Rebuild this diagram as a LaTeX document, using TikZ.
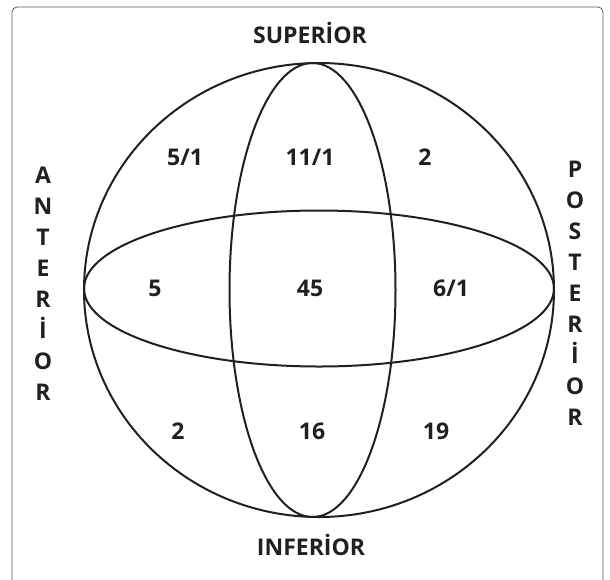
\documentclass[tikz,border=0pt]{standalone}
\usepackage{fontspec}
\setmainfont{Open Sans}
\definecolor{ink}{RGB}{35,31,32}
\begin{document}
\begin{tikzpicture}[x=1pt,y=-1pt,line width=2pt,draw=ink,
  lbl/.style={font=\bfseries\fontsize{23}{26}\selectfont,text=ink,text height=16pt,text depth=0pt,inner sep=0pt}]
\useasboundingbox (0,0) rectangle (610,579);
% frame
\draw[line width=.8pt,black!65,rounded corners=5pt] (12,590) -- (12,7) -- (603,7) -- (603,590);

% sphere and the two planes
\draw (319,290) ellipse [x radius=235, y radius=227];
\draw (312.5,290) ellipse [x radius=83, y radius=227];
\draw (319,288.5) ellipse [x radius=235, y radius=78];

\node[lbl] (sup) at (310,35) {SUPERİOR};
\node[lbl] (inf) at (311,547) {INFERİOR};

\foreach \ch [count=\i] in {A,N,T,E,R,İ,O,R}
  \node[lbl] (ant\i) at (43,{144+31.1*\i}) {\ch};
\foreach \ch [count=\i] in {P,O,S,T,E,R,İ,O,R}
  \node[lbl] (post\i) at (575,{138+31.1*\i}) {\ch};

% counts
\node[lbl] (ul) at (185,157) {5/1};
\node[lbl] (um) at (310,157) {11/1};
\node[lbl] (ur) at (425,157) {2};
\node[lbl] (ml) at (155,288) {5};
\node[lbl] (mm) at (310,288) {45};
\node[lbl] (mr) at (451,288) {6/1};
\node[lbl] (ll) at (178,431) {2};
\node[lbl] (lm) at (312,431) {16};
\node[lbl] (lr) at (436,431) {19};
\end{tikzpicture}
\end{document}
